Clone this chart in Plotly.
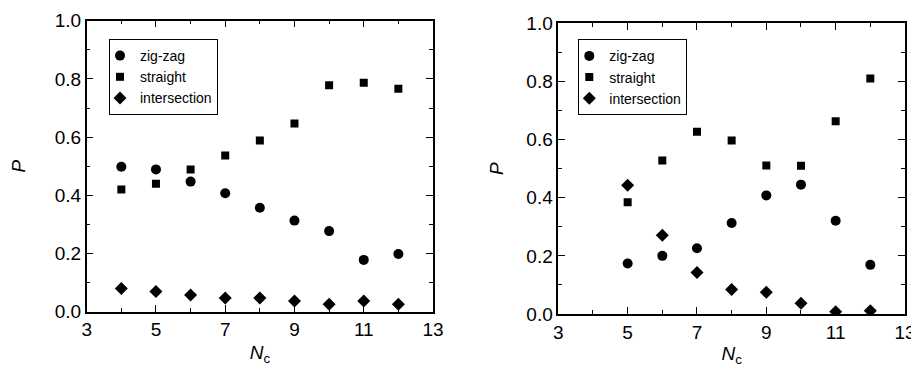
import plotly.graph_objects as go

# ---- data (left panel) ----
nc_left = [4, 5, 6, 7, 8, 9, 10, 11, 12]
zig_left = [0.498, 0.489, 0.447, 0.407, 0.357, 0.313, 0.277, 0.178, 0.198]
straight_left = [0.420, 0.440, 0.489, 0.537, 0.588, 0.647, 0.778, 0.787, 0.766]
inter_left = [0.080, 0.069, 0.057, 0.047, 0.047, 0.037, 0.026, 0.037, 0.026]

# ---- data (right panel) ----
nc_right = [5, 6, 7, 8, 9, 10, 11, 12]
zig_right = [0.174, 0.200, 0.226, 0.313, 0.408, 0.445, 0.321, 0.169]
straight_right = [0.384, 0.528, 0.627, 0.597, 0.511, 0.510, 0.663, 0.810]
inter_right = [0.443, 0.271, 0.143, 0.084, 0.075, 0.037, 0.008, 0.011]

series_names = ["zig-zag", "straight", "intersection"]
x_ticks = [3, 5, 7, 9, 11, 13]
y_ticks = [0.0, 0.2, 0.4, 0.6, 0.8, 1.0]

FONT = "Liberation Sans, Arial, Helvetica, sans-serif"
symbols = ["circle", "square", "diamond"]
sizes = [10, 8, 10]

fig = go.Figure()

panels = [
    (nc_left, [zig_left, straight_left, inter_left], "x", "y", "legend"),
    (nc_right, [zig_right, straight_right, inter_right], "x2", "y2", "legend2"),
]
for xs, ys_list, xa, ya, lg in panels:
    for name, ys, sym, sz in zip(series_names, ys_list, symbols, sizes):
        fig.add_trace(go.Scatter(
            x=xs, y=ys, mode="markers", name=name,
            marker=dict(symbol=sym, size=sz, color="black", line=dict(width=0)),
            xaxis=xa, yaxis=ya, legend=lg, showlegend=True,
        ))

# page body has an 8px margin; the figure is drawn from (8, 8)
OFF = 8
W, H = 919 - OFF, 367 - OFF

def xdom(a, b):
    return [(a - OFF) / W, (b - OFF) / W]

def ydom(top, bottom):
    return [(H - (bottom - OFF)) / H, (H - (top - OFF)) / H]

axis_common = dict(
    showline=True, linecolor="black", linewidth=1.5, mirror="ticks",
    ticks="inside", ticklen=7, tickwidth=1.3, tickcolor="black",
    showgrid=False, zeroline=False, automargin=False,
    tickfont=dict(family=FONT, size=19, color="black"),
)
xaxis_common = dict(axis_common, range=[3, 13], tickvals=x_ticks,
                    minor=dict(ticks="inside", ticklen=4, tickwidth=1.2,
                               tickcolor="black", dtick=1, tick0=3, showgrid=False),
                    title=dict(text="<i>N</i><sub>c</sub>",
                               font=dict(family=FONT, size=19, color="black"),
                               standoff=6))

def yaxis_with(standoff):
    return dict(axis_common, range=[0, 1], tickvals=y_ticks, tickformat=".1f",
                minor=dict(ticks="inside", ticklen=4, tickwidth=1.2,
                           tickcolor="black", dtick=0.1, tick0=0, showgrid=False),
                title=dict(text="<i>P</i>",
                           font=dict(family=FONT, size=19, color="black"),
                           standoff=standoff))

legend_common = dict(
    bordercolor="black", borderwidth=1, bgcolor="white",
    font=dict(family=FONT, size=14, color="black"),
    xanchor="left", yanchor="top", itemwidth=30, tracegroupgap=0,
    indentation=-10,
)

fig.update_layout(
    width=W, height=H,
    margin=dict(l=0, r=0, t=0, b=0),
    paper_bgcolor="white", plot_bgcolor="white",
    xaxis=dict(xaxis_common, domain=xdom(86.7, 433), anchor="y"),
    yaxis=dict(yaxis_with(27), domain=ydom(20.7, 311.7), anchor="x"),
    xaxis2=dict(xaxis_common, domain=xdom(558.3, 905), anchor="y2"),
    yaxis2=dict(yaxis_with(18), domain=ydom(23.3, 314), anchor="x2"),
    legend=dict(legend_common, x=(109 - OFF) / W, y=(H - (39 - OFF)) / H),
    legend2=dict(legend_common, x=(578.3 - OFF) / W, y=(H - (39.3 - OFF)) / H),
)

fig.write_html("out.html")
